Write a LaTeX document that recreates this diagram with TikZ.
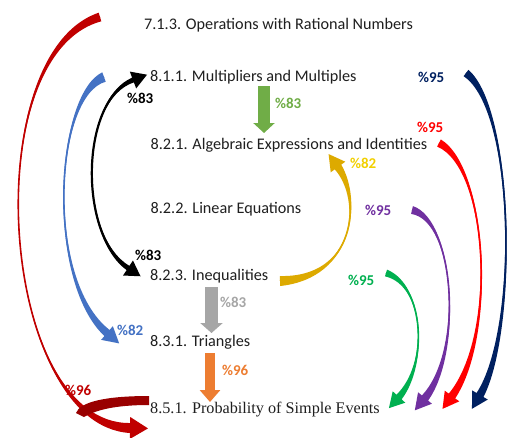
\documentclass[tikz,border=0pt]{standalone}
\usepackage{fontspec}
\setmainfont{Carlito}
\newfontfamily\serifprob{Liberation Serif}
\usetikzlibrary{calc,arrows.meta}
\definecolor{cDarkRed}{HTML}{C00000}
\definecolor{cBand}{HTML}{990000}
\definecolor{cBlue}{HTML}{4472C4}
\definecolor{cGreenL}{HTML}{70AD47}
\definecolor{cNavy}{HTML}{002060}
\definecolor{cRed}{HTML}{FF0000}
\definecolor{cGold}{HTML}{DDAA00}
\definecolor{cYellowTxt}{HTML}{F2D000}
\definecolor{cPurple}{HTML}{7030A0}
\definecolor{cGreen}{HTML}{00B050}
\definecolor{cGray}{HTML}{A6A6A6}
\definecolor{cOrange}{HTML}{ED7D31}
% #1 colour, #2 start, #3 c1, #4 c2, #5 head base, #6 tail half width, #7 neck half width, #8 head half width, #9 head length
\newcommand\bentarrow[9]{%
  \fill[#1] ($(#2)!#6!90:(#3)$) .. controls (#3) and (#4) .. ($(#5)!#7!-90:(#4)$)
    -- ($(#5)!#8!-90:(#4)$) -- ($(#5)!-#9!(#4)$) -- ($(#5)!#8!90:(#4)$)
    -- ($(#5)!#7!90:(#4)$) .. controls (#4) and (#3) .. ($(#2)!#6!-90:(#3)$) -- cycle;
  \draw[#1, line width=1.6pt] (#2) .. controls (#3) and (#4) .. (#5);
}
% double headed: #1 colour, #2 head base A, #3 c1, #4 c2, #5 head base B, #6 neck, #7 head half width, #8 head length
\newcommand\dblarrow[8]{%
  \fill[#1] ($(#2)!#6!90:(#3)$) .. controls (#3) and (#4) .. ($(#5)!#6!-90:(#4)$)
    -- ($(#5)!#7!-90:(#4)$) -- ($(#5)!-#8!(#4)$) -- ($(#5)!#7!90:(#4)$)
    -- ($(#5)!#6!90:(#4)$) .. controls (#4) and (#3) .. ($(#2)!#6!-90:(#3)$)
    -- ($(#2)!#7!-90:(#3)$) -- ($(#2)!-#8!(#3)$) -- ($(#2)!#7!90:(#3)$) -- cycle;
  \draw[#1, line width=2.2pt] (#2) .. controls (#3) and (#4) .. (#5);
}
\tikzset{
  topic/.style={anchor=base west, inner sep=0pt, text=black!88, font=\fontsize{16.2}{19}\selectfont},
  pct/.style={anchor=base west, inner sep=0pt, font=\fontsize{15}{18}\selectfont\bfseries},
}
\begin{document}
\begin{tikzpicture}[x=1pt,y=-1pt]
\fill[white] (0,0) rectangle (513,437);
\useasboundingbox (0,0) rectangle (513,437);

% topic nodes
\node[topic] (t713) at (144,29) {7.1.3. Operations with Rational Numbers};
\node[topic] (t811) at (150,81.5) {8.1.1. Multipliers and Multiples};
\node[topic] (t821) at (150.5,149) {8.2.1. Algebraic Expressions and Identities};
\node[topic] (t822) at (150.5,213) {8.2.2. Linear Equations};
\node[topic] (t823) at (150,280) {8.2.3. Inequalities};
\node[topic] (t831) at (150,346.5) {8.3.1. Triangles};
\node[topic, font=\fontsize{16.2}{19}\serifprob] (t851) at (150,413) {8.5.1. Probability of Simple Events};

% coordinates
\coordinate (rS) at (100,17);   \coordinate (rA) at (-25,55);  \coordinate (rB) at (0,425);   \coordinate (rE) at (130,428);
\coordinate (bS) at (104,77);   \coordinate (bA) at (55,95);   \coordinate (bB) at (45,280);  \coordinate (bE) at (107,333);
\coordinate (kA) at (133,80);   \coordinate (kc1) at (80,100); \coordinate (kc2) at (78,235); \coordinate (kB) at (128,268);
\coordinate (yS) at (280,281);  \coordinate (yA) at (355,278); \coordinate (yB) at (362,200); \coordinate (yE) at (338,167);
\coordinate (nS) at (466,73);   \coordinate (nA) at (515,110); \coordinate (nB) at (518,330); \coordinate (nE) at (480,395);
\coordinate (eS) at (439,143);  \coordinate (eA) at (488,168); \coordinate (eB) at (497,335); \coordinate (eE) at (452,396);
\coordinate (pS) at (412,210);  \coordinate (pA) at (455,220); \coordinate (pB) at (463,352); \coordinate (pE) at (425,398);
\coordinate (gS) at (386,273);  \coordinate (gA) at (425,285); \coordinate (gB) at (428,365); \coordinate (gE) at (399,397);

% big dark red curved arrow
\bentarrow{cDarkRed}{rS}{rA}{rB}{rE}{4.5pt}{5pt}{11pt}{18pt}
\fill[cBand] (149,396) .. controls (105,396) and (80,402) .. (76,413)
  -- (84,417) .. controls (96,410) and (115,405) .. (149,405) -- cycle;

\bentarrow{cBlue}{bS}{bA}{bB}{bE}{5pt}{4pt}{9pt}{16pt}
\dblarrow{black}{kA}{kc1}{kc2}{kB}{2.5pt}{9pt}{15pt}
\bentarrow{cGold}{yS}{yA}{yB}{yE}{5pt}{4pt}{9pt}{16pt}
\bentarrow{cNavy}{nS}{nA}{nB}{nE}{4pt}{4pt}{9pt}{16pt}
\bentarrow{cRed}{eS}{eA}{eB}{eE}{4pt}{4pt}{9pt}{16pt}
\bentarrow{cPurple}{pS}{pA}{pB}{pE}{4pt}{4pt}{9pt}{16pt}
\bentarrow{cGreen}{gS}{gA}{gB}{gE}{3.5pt}{3.5pt}{8.5pt}{15pt}

% straight block arrows
\coordinate (g1) at (264,86);    \coordinate (g2) at (264,133);
\coordinate (s1) at (211.5,287); \coordinate (s2) at (211.5,333);
\coordinate (o1) at (210,353);   \coordinate (o2) at (210,402);
\draw[cGreenL, line width=12pt, -{Triangle[width=21pt,length=10pt]}] (g1) -- (g2);
\draw[cGray, line width=13pt, -{Triangle[width=22pt,length=10pt]}] (s1) -- (s2);
\draw[cOrange, line width=10pt, -{Triangle[width=20pt,length=12pt]}] (o1) -- (o2);

% percentage labels
\node[pct, text=black] (p1) at (127,103) {\%83};
\node[pct, text=cGreenL] (p2) at (275,108) {\%83};
\node[pct, text=cNavy] (p3) at (418,82) {\%95};
\node[pct, text=cRed] (p4) at (417,132) {\%95};
\node[pct, text=cYellowTxt] (p5) at (350,168) {\%82};
\node[pct, text=cPurple] (p6) at (365,215) {\%95};
\node[pct, text=black] (p7) at (135,260) {\%83};
\node[pct, text=cGreen] (p8) at (348,285) {\%95};
\node[pct, text=cGray] (p9) at (220,307) {\%83};
\node[pct, text=cBlue] (p10) at (117,335) {\%82};
\node[pct, text=cOrange] (p11) at (222,375) {\%96};
\node[pct, text=cDarkRed] (p12) at (65,395) {\%96};
\end{tikzpicture}
\end{document}
